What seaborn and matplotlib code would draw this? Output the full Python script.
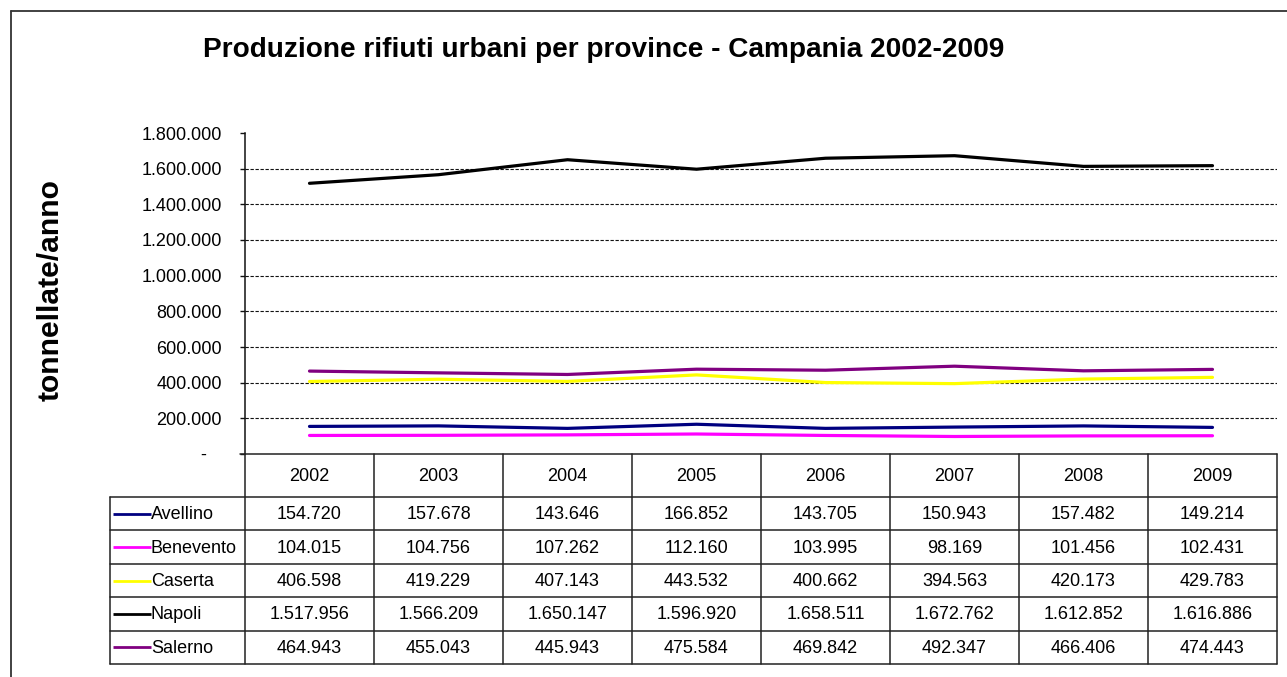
import matplotlib
matplotlib.use("Agg")
import matplotlib.pyplot as plt
import seaborn as sns
import pandas as pd
from matplotlib import font_manager
from matplotlib.lines import Line2D

# ---------------- data ----------------
years = ["2002", "2003", "2004", "2005", "2006", "2007", "2008", "2009"]
provinces = ["Avellino", "Benevento", "Caserta", "Napoli", "Salerno"]
avellino = [154720, 157678, 143646, 166852, 143705, 150943, 157482, 149214]
benevento = [104015, 104756, 107262, 112160, 103995, 98169, 101456, 102431]
caserta = [406598, 419229, 407143, 443532, 400662, 394563, 420173, 429783]
napoli = [1517956, 1566209, 1650147, 1596920, 1658511, 1672762, 1612852, 1616886]
salerno = [464943, 455043, 445943, 475584, 469842, 492347, 466406, 474443]
y_ticks = [0, 200000, 400000, 600000, 800000, 1000000, 1200000, 1400000, 1600000, 1800000]
title = "Produzione rifiuti urbani per province - Campania 2002-2009"
y_label = "tonnellate/anno"

series = {"Avellino": avellino, "Benevento": benevento, "Caserta": caserta,
          "Napoli": napoli, "Salerno": salerno}
colors = {"Avellino": "#000080", "Benevento": "#FF00FF", "Caserta": "#FFFF00",
          "Napoli": "#000000", "Salerno": "#800080"}

rows = []
for p in provinces:
    for i, (yr, v) in enumerate(zip(years, series[p])):
        rows.append({"pos": i, "anno": yr, "provincia": p, "valore": v})
df = pd.DataFrame(rows)


def it_fmt(v):
    return f"{v:,}".replace(",", ".")


# ---------------- style ----------------
sns.set_style("white")
plt.rcParams["font.family"] = ["Liberation Sans", "DejaVu Sans"]
plt.rcParams["text.color"] = "black"
plt.rcParams["ytick.color"] = "black"
plt.rcParams["ytick.labelcolor"] = "black"

# condensed bold face for the title if one is installed
title_family = ["Liberation Sans", "DejaVu Sans"]
title_stretch = "normal"
names = {f.name for f in font_manager.fontManager.ttflist}
if "Liberation Sans Narrow" in names:
    title_family = ["Liberation Sans Narrow", "DejaVu Sans"]

W, H = 1287, 677
fig = plt.figure(figsize=(W / 100, H / 100), dpi=100)
fig.patch.set_facecolor("white")


def fx(px):
    return px / W


def fy(py):
    return 1 - py / H


X0, X1 = 245, 1277
Y_TOP, Y_AX = 133, 454
col_w = (X1 - X0) / len(years)

ax = fig.add_axes([fx(X0), fy(Y_AX), fx(X1) - fx(X0), fy(Y_TOP) - fy(Y_AX)])
sns.lineplot(data=df, x="pos", y="valore", hue="provincia", hue_order=provinces,
             palette=colors, legend=False, linewidth=2.3, ax=ax,
             estimator=None, sort=False)
ax.set_xlim(-0.5, len(years) - 0.5)
ax.set_ylim(y_ticks[0], y_ticks[-1])
ax.set_xticks([])
ax.set_xlabel("")
ax.set_ylabel("")
ax.set_yticks(y_ticks)
ax.set_yticklabels(["-   " if v == 0 else it_fmt(v) for v in y_ticks])
for s in ["top", "right", "bottom"]:
    ax.spines[s].set_visible(False)
ax.spines["left"].set_color("#111111")
ax.spines["left"].set_linewidth(1.1)
ax.tick_params(axis="y", direction="out", length=3.6, width=1, color="#111111",
               labelcolor="black", labelsize=13, pad=13, left=True)
ax.set_facecolor("none")
ax.grid(axis="y", color="#111111", linewidth=0.8, linestyle=(0, (3, 1.5)))
ax.set_axisbelow(True)
gl = ax.get_ygridlines()
gl[0].set_visible(False)
gl[-1].set_visible(False)

# ---------------- data table ----------------
Y_BOT = 664
header_bot = 497
row_h = (Y_BOT - header_bot) / len(provinces)
tax = fig.add_axes([fx(X0), fy(Y_BOT), fx(X1) - fx(X0), fy(Y_AX) - fy(Y_BOT)])
tax.set_xlim(-0.5, len(years) - 0.5)
tax.set_ylim(Y_BOT, Y_AX)
tax.axis("off")


def px2x(px):
    return -0.5 + (px - X0) / col_w


lc = "#222222"
lw = 1.1
leg_left = px2x(110)
tax.plot([px2x(240), len(years) - 0.5], [Y_AX, Y_AX], color=lc, lw=lw, clip_on=False)
for k in range(len(provinces) + 1):
    yy = header_bot + k * row_h
    tax.plot([leg_left, len(years) - 0.5], [yy, yy], color=lc, lw=lw, clip_on=False)
tax.plot([leg_left, leg_left], [header_bot, Y_BOT], color=lc, lw=lw, clip_on=False)
for i in range(len(years) + 1):
    xx = i - 0.5
    tax.plot([xx, xx], [Y_AX, Y_BOT], color=lc, lw=lw, clip_on=False)
for i, yr in enumerate(years):
    tax.text(i, (Y_AX + header_bot) / 2 + 1, yr, ha="center", va="center",
             fontsize=13, color="black")
for k, p in enumerate(provinces):
    yc = header_bot + (k + 0.5) * row_h
    tax.plot([px2x(113), px2x(151)], [yc, yc], color=colors[p], lw=2, clip_on=False,
             solid_capstyle="butt")
    tax.text(px2x(151), yc + 1, p, ha="left", va="center", fontsize=13,
             color="black", clip_on=False)
    for i, v in enumerate(series[p]):
        tax.text(i, yc + 1, it_fmt(v), ha="center", va="center", fontsize=13,
                 color="black")

# ---------------- title / label ----------------
t = fig.text(fx(604), fy(50), title, ha="center", va="center", fontweight="bold",
             family=title_family, fontsize=20, color="black")
yl = fig.text(fx(51), fy(290), y_label, rotation=90, ha="center", va="center",
              fontweight="bold", fontsize=20, color="black")
fig.canvas.draw()
r = fig.canvas.get_renderer()
bw = t.get_window_extent(r).width
t.set_fontsize(20 * 800 / bw)
bh = yl.get_window_extent(r).height
yl.set_fontsize(20 * 222 / bh)

# outer frame
fig.add_artist(Line2D([fx(11), fx(11)], [fy(11), 0], color="#333333", lw=1.3,
                      transform=fig.transFigure))
fig.add_artist(Line2D([fx(11), 1], [fy(11), fy(11)], color="#333333", lw=1.3,
                      transform=fig.transFigure))

fig.savefig("out.png", dpi=100, facecolor="white")
